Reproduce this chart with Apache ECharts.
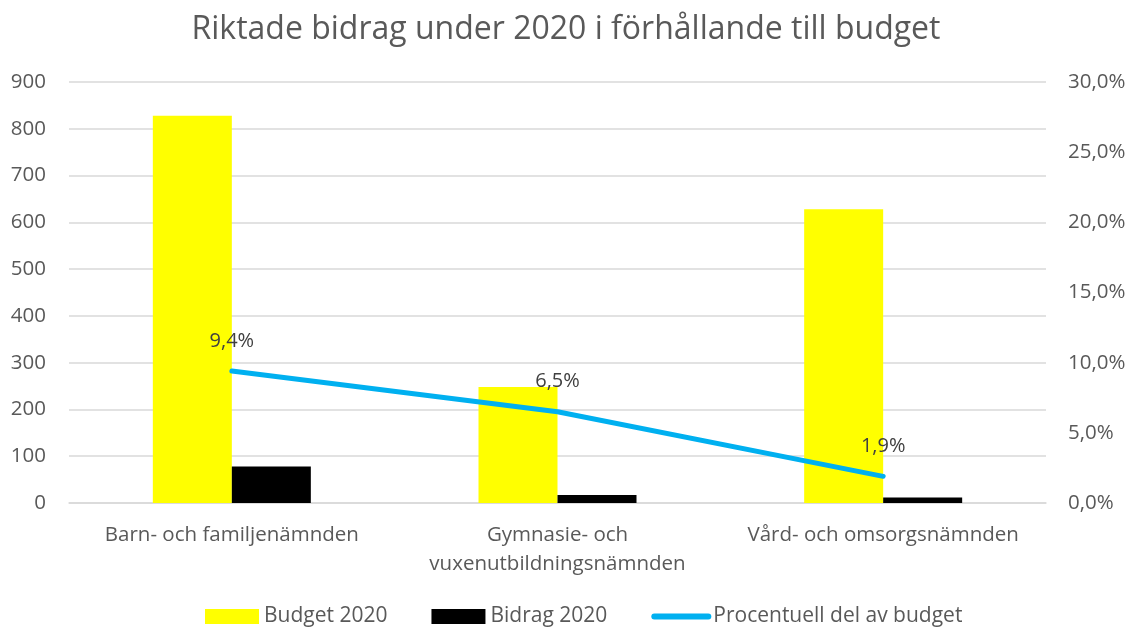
<!DOCTYPE html>
<html>
<head>
<meta charset="utf-8">
<script src="https://cdn.jsdelivr.net/npm/echarts@6/dist/echarts.min.js"></script>
<style>
  html, body { margin: 0; padding: 0; background: #fff; }
  #chart { width: 1132px; height: 627px; }
</style>
</head>
<body>
<div id="chart"></div>
<script>
// data
const categories = ["Barn- och familjenämnden", "Gymnasie- och\nvuxenutbildningsnämnden", "Vård- och omsorgsnämnden"];
const budget2020 = [828, 248, 628];
const bidrag2020 = [78, 17, 12];
const andelProcent = [9.4, 6.5, 1.9];

const textColor = "#595959";
const font = "'Open Sans', sans-serif";

function pct(v) {
  return v.toFixed(1).replace(".", ",") + "%";
}

let myChart = echarts.init(document.getElementById("chart"));
let option = {
  animation: false,
  textStyle: { fontFamily: font },
  title: {
    text: "Riktade bidrag under 2020 i förhållande till budget",
    left: "center",
    top: 9,
    textStyle: { fontSize: 32, fontWeight: "normal", color: textColor, fontFamily: font }
  },
  legend: {
    top: 601,
    left: 200,
    itemWidth: 54,
    itemHeight: 15,
    itemGap: 44,
    textStyle: { fontSize: 21, color: textColor, fontFamily: font },
    data: [
      { name: "Budget 2020", icon: "rect" },
      { name: "Bidrag 2020", icon: "rect" },
      {
        name: "Procentuell del av budget",
        itemStyle: { opacity: 0 },
        lineStyle: { width: 6, cap: "round", color: "#00b0f0" }
      }
    ]
  },
  grid: { left: 69, right: 86, top: 82, bottom: 124 },
  xAxis: {
    type: "category",
    data: categories,
    axisTick: { show: false },
    axisLine: { lineStyle: { color: "#d9d9d9", width: 1.5 } },
    axisLabel: { interval: 0, color: textColor, fontSize: 20.5, margin: 18, lineHeight: 29, fontFamily: font }
  },
  yAxis: [
    {
      type: "value",
      min: 0,
      max: 900,
      interval: 100,
      axisLine: { show: false },
      axisTick: { show: false },
      splitLine: { lineStyle: { color: "#d9d9d9", width: 1.5 } },
      axisLabel: { color: textColor, fontSize: 20.5, margin: 23, fontFamily: font }
    },
    {
      type: "value",
      min: 0,
      max: 30,
      interval: 5,
      position: "right",
      axisLine: { show: false },
      axisTick: { show: false },
      splitLine: { show: false },
      axisLabel: { color: textColor, fontSize: 20.5, margin: 22, fontFamily: font, formatter: pct }
    }
  ],
  series: [
    {
      name: "Budget 2020",
      type: "bar",
      data: budget2020,
      barWidth: 79,
      barGap: "0%",
      itemStyle: { color: "#ffff00" }
    },
    {
      name: "Bidrag 2020",
      type: "bar",
      data: bidrag2020,
      barWidth: 79,
      itemStyle: { color: "#000000" }
    },
    {
      name: "Procentuell del av budget",
      type: "line",
      yAxisIndex: 1,
      data: andelProcent,
      symbol: "circle",
      symbolSize: 0.1,
      lineStyle: { color: "#00b0f0", width: 5, cap: "round" },
      itemStyle: { color: "#00b0f0" },
      label: {
        show: true,
        position: "top",
        distance: 20,
        color: "#404040",
        fontSize: 20,
        fontFamily: font,
        formatter: p => pct(p.value)
      },
      z: 5
    }
  ]
};
myChart.setOption(option, true);
window.addEventListener("resize", () => {
  myChart.resize();
});
</script>
</body>
</html>
